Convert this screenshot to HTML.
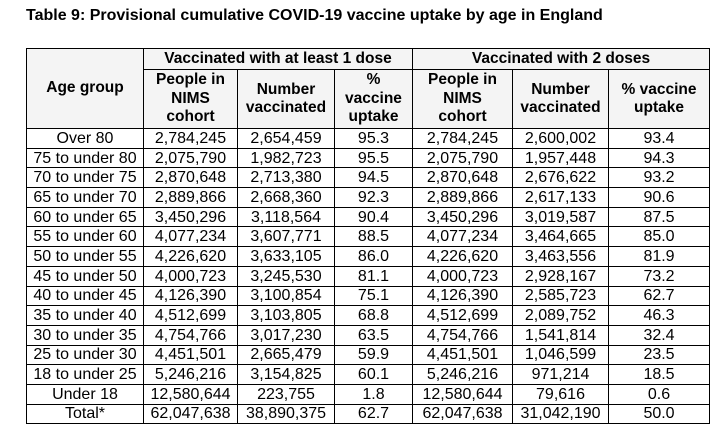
<!DOCTYPE html>
<html><head><meta charset="utf-8">
<style>
body{margin:0;width:719px;height:434px;background:#fff;overflow:hidden;font-family:"Liberation Sans",Arial,sans-serif;color:#000}
#title{position:absolute;left:26px;top:7px;font-weight:bold;font-size:16px;white-space:nowrap}
table{position:absolute;left:26px;top:48px;border-collapse:collapse;table-layout:fixed;width:683px}
td,th{border:1px solid #000;padding:0;text-align:center;font-size:16px;line-height:17px;white-space:nowrap;overflow:hidden}
th{font-weight:bold;background:#f4f4f4;font-size:15.5px;line-height:18.5px}
tr.g th{height:20px}
tr.s th{height:58px}
tbody td{height:18.7px;line-height:17px}
</style></head><body>
<div id="title">Table 9: Provisional cumulative COVID-19 vaccine uptake by age in England</div>
<table>
<colgroup><col style="width:117px"><col style="width:94px"><col style="width:97px"><col style="width:78px"><col style="width:100px"><col style="width:96px"><col style="width:101px"></colgroup>
<thead>
<tr class="g">
<th rowspan="2">Age group</th>
<th colspan="3">Vaccinated with at least 1 dose</th>
<th colspan="3">Vaccinated with 2 doses</th>
</tr>
<tr class="s">
<th>People in<br>NIMS<br>cohort</th>
<th>Number<br>vaccinated</th>
<th>%<br>vaccine<br>uptake</th>
<th>People in<br>NIMS<br>cohort</th>
<th>Number<br>vaccinated</th>
<th>% vaccine<br>uptake</th>
</tr>
</thead>
<tbody id="tb"></tbody>
</table>
<script>
const ageGroups=["Over 80","75 to under 80","70 to under 75","65 to under 70","60 to under 65","55 to under 60","50 to under 55","45 to under 50","40 to under 45","35 to under 40","30 to under 35","25 to under 30","18 to under 25","Under 18","Total*"];
const cohort=["2,784,245","2,075,790","2,870,648","2,889,866","3,450,296","4,077,234","4,226,620","4,000,723","4,126,390","4,512,699","4,754,766","4,451,501","5,246,216","12,580,644","62,047,638"];
const dose1=["2,654,459","1,982,723","2,713,380","2,668,360","3,118,564","3,607,771","3,633,105","3,245,530","3,100,854","3,103,805","3,017,230","2,665,479","3,154,825","223,755","38,890,375"];
const uptake1=["95.3","95.5","94.5","92.3","90.4","88.5","86.0","81.1","75.1","68.8","63.5","59.9","60.1","1.8","62.7"];
const dose2=["2,600,002","1,957,448","2,676,622","2,617,133","3,019,587","3,464,665","3,463,556","2,928,167","2,585,723","2,089,752","1,541,814","1,046,599","971,214","79,616","31,042,190"];
const uptake2=["93.4","94.3","93.2","90.6","87.5","85.0","81.9","73.2","62.7","46.3","32.4","23.5","18.5","0.6","50.0"];
const tb=document.getElementById('tb');
ageGroups.forEach((a,i)=>{
  const tr=document.createElement('tr');
  
  
  [a,cohort[i],dose1[i],uptake1[i],cohort[i],dose2[i],uptake2[i]].forEach((v,j)=>{
    const td=document.createElement('td');
    td.textContent=v;
    
    
    tr.appendChild(td);
  });
  tb.appendChild(tr);
});
</script>
</body></html>
